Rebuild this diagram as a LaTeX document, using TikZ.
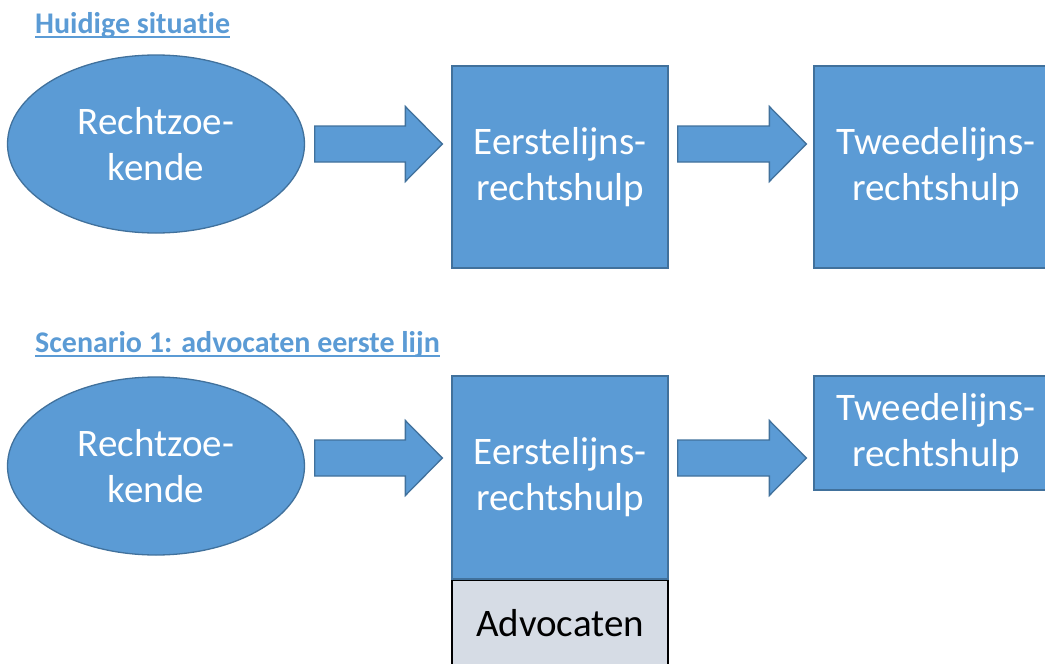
\documentclass[tikz,border=0pt]{standalone}
\usepackage{fontspec}
\setmainfont{Carlito}[Ligatures=NoCommon]
\usepackage{tikz}
\usetikzlibrary{calc}
\usetikzlibrary{shapes.geometric}

\definecolor{blok}{HTML}{5B9BD5}
\definecolor{blokrand}{HTML}{41719C}
\definecolor{advo}{HTML}{D6DCE5}

\tikzset{
  vak/.style={draw=blokrand, fill=blok, line width=1.3pt, text=white, align=center,
    inner sep=0pt, font=\fontsize{39}{46}\selectfont},
  ovaal/.style={vak, ellipse, minimum width=297pt, minimum height=178pt},
  advobox/.style={vak, draw=black, fill=advo, text=black},
  kop/.style={text=blok, inner sep=0pt, anchor=base west, font=\fontsize{30}{36}\selectfont\bfseries},
  pijl/.style={draw=blokrand, fill=blok, line width=1.3pt},
}

% blokpijl van #1 naar punt #2
\newcommand{\blokpijl}[2]{
  \draw[pijl] ($(#1)+(0,-18)$) -- ($(#2)+(-37,-18)$) -- ($(#2)+(-37,-37.5)$) -- (#2)
    -- ($(#2)+(-37,37.5)$) -- ($(#2)+(-37,18)$) -- ($(#1)+(0,18)$) -- cycle;
}

\begin{document}
\begin{tikzpicture}[x=1pt, y=-1pt]
\useasboundingbox (0,0) rectangle (1045,664);

% huidige situatie
\node[kop] (K1) at (35,33) {Huidige situatie};
\draw[blok, line width=2pt] ($(K1.base west)+(0,4)$) -- ($(K1.base east)+(0,4)$);

\node[ovaal] (R1) at (156,144) {Rechtzoe-\\kende};
\node[vak, minimum width=216pt, minimum height=202pt] (E1) at (560,167) {Eerstelijns-\\rechtshulp};
\node[vak, minimum width=244pt, minimum height=202pt] (T1) at (936,167) {Tweedelijns-\\rechtshulp};

\coordinate (P1a) at ($(R1.east)+(9.5,0)$); \coordinate (P1b) at ($(E1.west |- R1.east)+(-9,0)$);
\coordinate (P2a) at ($(E1.east |- R1.east)+(9,0)$); \coordinate (P2b) at ($(T1.west |- R1.east)+(-7,0)$);
\blokpijl{P1a}{P1b}
\blokpijl{P2a}{P2b}

% scenario 1
\node[kop] (K2) at (35,352) {Scenario 1: advocaten eerste lijn};
\draw[blok, line width=2pt] ($(K2.base west)+(0,4)$) -- ($(K2.base east)+(0,4)$);

\node[ovaal] (R2) at (156,466) {Rechtzoe-\\kende};
\node[vak, minimum width=216pt, minimum height=203pt] (E2) at (560,477.5) {Eerstelijns-\\rechtshulp};
\node[vak, minimum width=244pt, minimum height=114pt] (T2) at (936,433) {Tweedelijns-\\rechtshulp};
\node[advobox, minimum width=216pt, minimum height=86pt, anchor=north] (A2) at (E2.south) {Advocaten};

\coordinate (H2) at (0,458);
\coordinate (P3a) at ($(R2.east |- H2)+(9.5,0)$); \coordinate (P3b) at ($(E2.west |- H2)+(-9,0)$);
\coordinate (P4a) at ($(E2.east |- H2)+(9,0)$); \coordinate (P4b) at ($(T2.west |- H2)+(-7,0)$);
\blokpijl{P3a}{P3b}
\blokpijl{P4a}{P4b}

\end{tikzpicture}
\end{document}
